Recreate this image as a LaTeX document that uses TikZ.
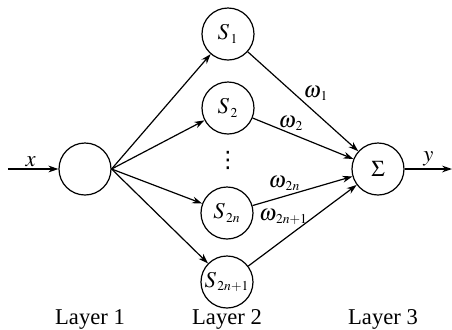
\documentclass[tikz,border=0pt]{standalone}
\usepackage{mathptmx}
\usepackage{fontspec}
\setmainfont{Liberation Serif}
\newfontfamily\dotsfont{DejaVu Sans}
\usetikzlibrary{arrows.meta,positioning}

\newcommand{\lsub}[1]{_{\scriptscriptstyle\mkern2mu #1}}

\begin{document}
\begin{tikzpicture}[
    x=0.5pt, y=-0.5pt,
    font=\fontsize{11.3}{13}\selectfont,
    neuron/.style={draw, circle, line width=0.6pt, minimum size=26pt, inner sep=0pt},
    arr/.style={-{Stealth[length=5pt, width=3.4pt]}, line width=0.6pt},
    wlab/.style={}
  ]
    \useasboundingbox (0,0) rectangle (452,329);

    % layers
    \node[neuron] (in) at (85,169) {};
    \node[neuron] (s1) at (228,34) {$S\lsub{1}$};
    \node[neuron] (s2) at (228,108) {$S\lsub{2}$};
    \node (dots) at (228,160) {\dotsfont ⋮};
    \node[neuron] (s2n) at (227,213) {$S\lsub{2n}$};
    \node[neuron] (s2n1) at (227,282) {$S\lsub{2n+1}$};
    \node[neuron] (sum) at (378,169) {$\Sigma$};

    \coordinate (xin) at (8,169);
    \coordinate (yout) at (452,169);

    \node (l1) at (90,319) {Layer 1};
    \node (l2) at (227,319) {Layer 2};
    \node (l3) at (383,319) {Layer 3};

    % connections
    \draw[arr] (xin) -- node[pos=0.45, above, inner sep=1pt]{$x$} (in);
    \draw[arr] (sum) -- node[pos=0.5, above, inner sep=1pt]{$y$} (yout);

    \foreach \s in {s1,s2,s2n,s2n1}
      \draw[arr] (in.east) -- (\s);

    \draw[arr] (s1) -- node[wlab, pos=0.5, above right, inner sep=0pt]{$\omega\lsub{1}$} (sum);
    \draw[arr] (s2) -- node[wlab, pos=0.38, above, inner sep=1pt]{$\omega\lsub{2}$} (sum);
    \draw[arr] (s2n) -- node[wlab, pos=0.32, above, inner sep=2.5pt]{$\omega\lsub{2n}$} (sum);
    \draw[arr] (s2n1) -- node[wlab, pos=0.38, above, inner sep=5pt, xshift=-3pt]{$\omega\lsub{2n+1}$} (sum);
\end{tikzpicture}
\end{document}
